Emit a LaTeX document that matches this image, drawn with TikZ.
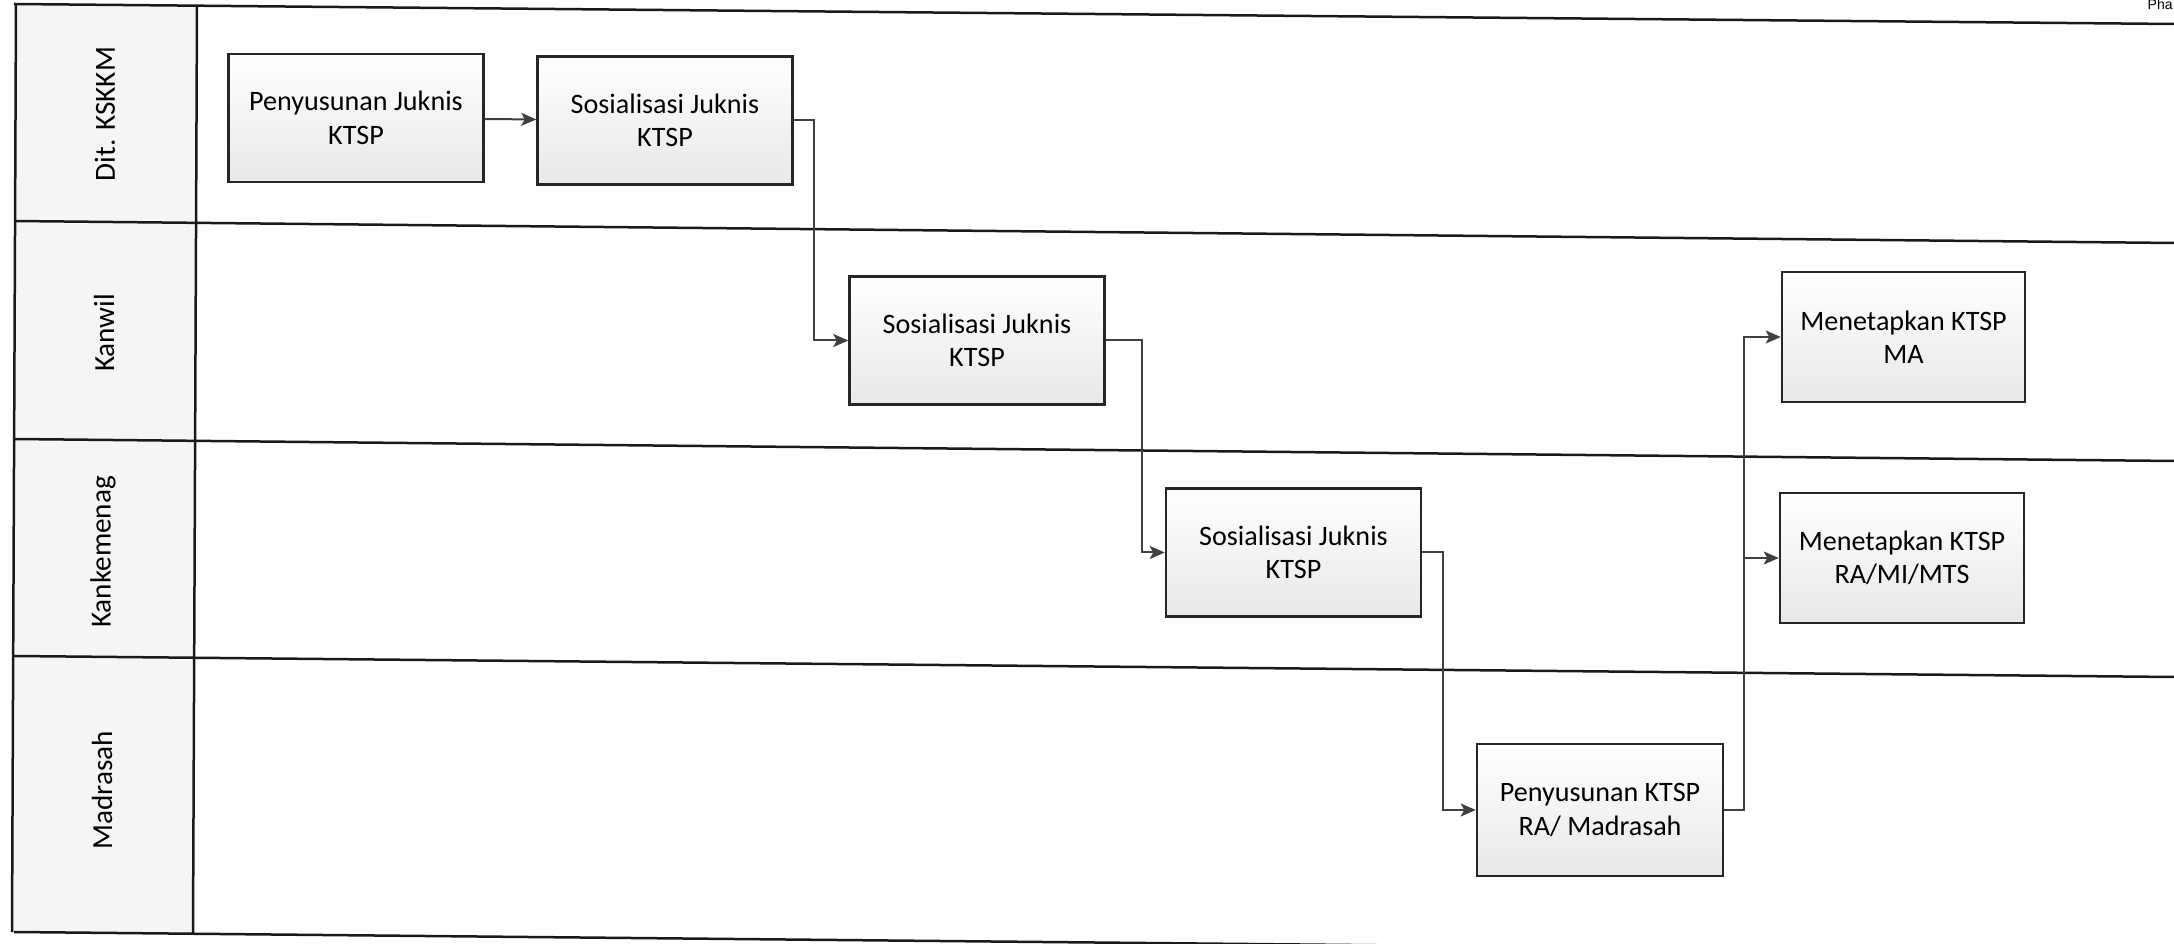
\documentclass[tikz,border=0pt]{standalone}
\usepackage{fontspec}
\setmainfont{Carlito}
\newfontfamily\phafont{Liberation Sans}
\usetikzlibrary{arrows.meta,positioning}

\begin{document}
\begin{tikzpicture}[x=0.1mm,y=-0.1mm]
\tikzset{
  procbox/.style={rectangle,draw=black!85,line width=0.25mm,top color=white,bottom color=black!9,minimum width=25.5mm,minimum height=12.8mm,inner sep=1pt,align=center,font=\fontsize{8}{9.5}\selectfont},
  lanelabel/.style={rotate=90,inner sep=0pt,font=\fontsize{8.3}{10}\selectfont},
  laneline/.style={draw=black!90,line width=0.25mm},
  flowedge/.style={draw=black!75,line width=0.2mm},
  directed/.style={flowedge,-{Stealth[length=1.5mm,width=1.3mm,inset=0.35mm]}}
}
\useasboundingbox (0,0) rectangle (2174,944);
% lanes (scan is a little skewed)
\fill[black!4] (16,4) -- (197,6) -- (193,934) -- (12,932) -- cycle;
\draw[laneline] (14,4) -- (2174,24);
\draw[laneline] (14,221) -- (2174,243);
\draw[laneline] (14,439) -- (2174,461);
\draw[laneline] (14,656) -- (2174,677);
\draw[laneline] (14,932) -- (2174,953);
\draw[laneline] (16,4) -- (12,932);
\draw[laneline] (197,6) -- (193,934);
\node[lanelabel] (n_lDIT) at (105,114) {Dit. KSKKM};
\node[lanelabel] (n_lKW) at (104,333) {Kanwil};
\node[lanelabel] (n_lKK) at (103,552) {Kankemenag};
\node[lanelabel] (n_lMD) at (102,790) {Madrasah};
\node[anchor=base west,inner sep=0pt,font=\phafont\fontsize{4}{5}\selectfont] (n_pha) at (2147,10) {Pha};
% steps
\node[procbox] (n_DIT1) at (356,118) {Penyusunan Juknis\\KTSP};
\node[procbox] (n_DIT2) at (665,120.5) {Sosialisasi Juknis\\KTSP};
\node[procbox] (n_KW1) at (977,340.5) {Sosialisasi Juknis\\KTSP};
\node[procbox] (n_KK1) at (1293.5,552.5) {Sosialisasi Juknis\\KTSP};
\node[procbox,minimum width=24.6mm,minimum height=13.2mm] (n_MD1) at (1600,810) {Penyusunan KTSP\\RA/ Madrasah};
\node[procbox,minimum width=24.3mm,minimum height=13mm] (n_KW2) at (1903.5,337) {Menetapkan KTSP\\MA};
\node[procbox,minimum width=24.4mm,minimum height=13mm] (n_KK2) at (1902,558) {Menetapkan KTSP\\RA/MI/MTS};
% flow
\draw[directed] (n_DIT1) -- (n_DIT2);
\draw[directed] (n_DIT2.east) -- ++(20,0) |- (n_KW1.west);
\draw[directed] (n_KW1.east) -- ++(36,0) |- (n_KK1.west);
\draw[directed] (n_KK1.east) -- ++(21,0) |- (n_MD1.west);
\draw[directed] (n_MD1.east) -- ++(20,0) |- (n_KW2.west);
\draw[directed] (n_MD1.east) -- ++(20,0) |- (n_KK2.west);
\end{tikzpicture}
\end{document}
